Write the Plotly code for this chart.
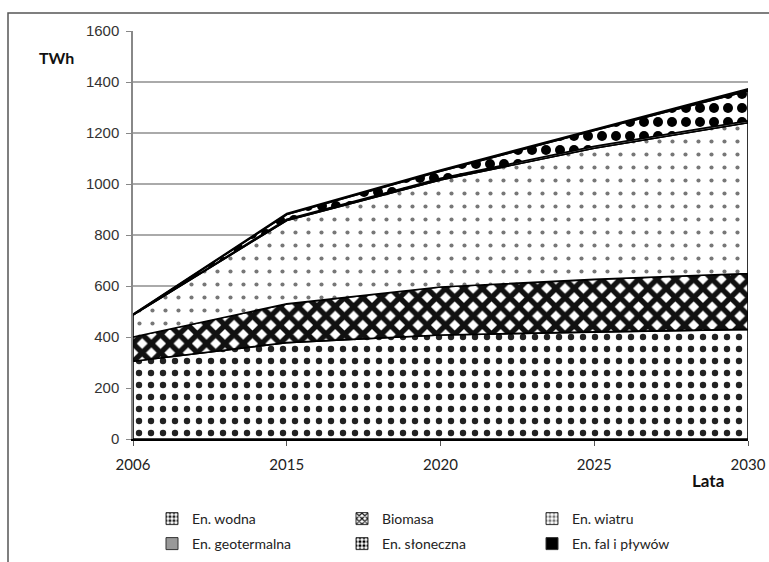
import plotly.graph_objects as go

years = ["2006", "2015", "2020", "2025", "2030"]
hydro = [305, 378, 408, 420, 430]
biomass = [95, 152, 188, 206, 219]
wind = [86, 327, 420, 514, 591]
geothermal = [1, 5, 6, 8, 8]
solar = [1, 18, 28, 62, 117]
tidal = [1, 4, 5, 5, 8]

names = ["En. wodna", "Biomasa", "En. wiatru", "En. geotermalna", "En. słoneczna", "En. fal i pływów"]
series = [hydro, biomass, wind, geothermal, solar, tidal]

patterns = [
    dict(shape=".", fgcolor="#222222", bgcolor="white", size=12, solidity=0.22, fgopacity=1),
    dict(shape="x", fgcolor="#111111", bgcolor="white", size=13, solidity=0.65, fgopacity=1),
    dict(shape=".", fgcolor="#777777", bgcolor="white", size=13, solidity=0.08, fgopacity=1),
    dict(shape="", fgcolor="#999999", bgcolor="#999999"),
    dict(shape=".", fgcolor="#000000", bgcolor="white", size=14, solidity=0.4, fgopacity=1),
    dict(shape="", fgcolor="#000000", bgcolor="#000000"),
]
legend_colors = ["white", "white", "white", "#999999", "white", "#000000"]

fig = go.Figure()
bottom = [0] * len(years)
for name, vals, pat in zip(names, series, patterns):
    top = [b + v for b, v in zip(bottom, vals)]
    xs = years + years[::-1] + [years[0]]
    ys = top + bottom[::-1] + [top[0]]
    fig.add_trace(go.Scatter(
        x=xs, y=ys, mode="lines", fill="toself",
        fillcolor=pat["bgcolor"], fillpattern=pat if pat["shape"] else None,
        line=dict(color="black", width=1.6),
        showlegend=False, hoverinfo="skip",
    ))
    bottom = top

# legend-only entries (two rows -> two legends)
for i, (name, pat, col) in enumerate(zip(names, patterns, legend_colors)):
    fig.add_trace(go.Bar(
        x=[None], y=[None], name=name,
        legend="legend" if i < 3 else "legend2",
        marker=dict(color=col, line=dict(color="#333333", width=1),
                    pattern=dict(shape=pat["shape"], fgcolor=pat["fgcolor"], bgcolor=pat["bgcolor"],
                                 size=5, solidity=0.5, fgopacity=1) if pat["shape"] else None),
    ))

W, H = 769, 562
L, R, T, B = 133, 21, 31, 123
pw, ph = W - L - R, H - T - B

def px(x):
    return (x - L) / pw

def py(y):
    return (H - B - y) / ph

leg_common = dict(orientation="h", xref="container", yref="container",
                  x=152 / W, xanchor="left", yanchor="middle",
                  entrywidth=145, entrywidthmode="pixels",
                  font=dict(family="Lato", size=14, color="#222222"),
                  itemclick=False, itemdoubleclick=False, bgcolor="rgba(0,0,0,0)")

fig.update_layout(
    width=W, height=H, autosize=False,
    margin=dict(l=L, r=R, t=T, b=B, autoexpand=False),
    paper_bgcolor="white", plot_bgcolor="white",
    showlegend=True,
    legend=dict(leg_common, y=1 - 519 / H),
    legend2=dict(leg_common, y=1 - 544 / H),
    xaxis=dict(type="category", range=[0, 4], showgrid=False,
               showline=True, linecolor="black", linewidth=2,
               ticks="outside", ticklen=5, tickcolor="#555555",
               ticklabelstandoff=6,
               tickfont=dict(family="Lato", size=15, color="#222222"),
               fixedrange=True),
    yaxis=dict(range=[0, 1600], dtick=200, showgrid=True, gridcolor="#aaaaaa", gridwidth=1.5,
               showline=True, linecolor="#888888", linewidth=1.5,
               ticks="outside", ticklen=5, tickcolor="#888888",
               ticklabelstandoff=4,
               tickfont=dict(family="Liberation Sans", size=15, color="#333333"),
               zeroline=False, fixedrange=True),
    shapes=[dict(type="rect", xref="paper", yref="paper",
                 x0=px(8), x1=px(800), y0=py(600), y1=py(13),
                 line=dict(color="#555555", width=1.5), fillcolor="rgba(0,0,0,0)", layer="below")],
    annotations=[
        dict(text="<b>TWh</b>", xref="paper", yref="paper", x=px(56), y=py(57),
             xanchor="center", yanchor="middle",
             showarrow=False, font=dict(family="Lato", size=16, color="#111111")),
        dict(text="<b>Lata</b>", xref="paper", yref="paper", x=px(708), y=py(480),
             xanchor="center", yanchor="middle",
             showarrow=False, font=dict(family="Lato", size=17, color="#111111")),
    ],
)

fig.write_html("out.html", config={"displayModeBar": False},
               post_script="document.body.style.margin='0';document.body.style.overflow='hidden';")
